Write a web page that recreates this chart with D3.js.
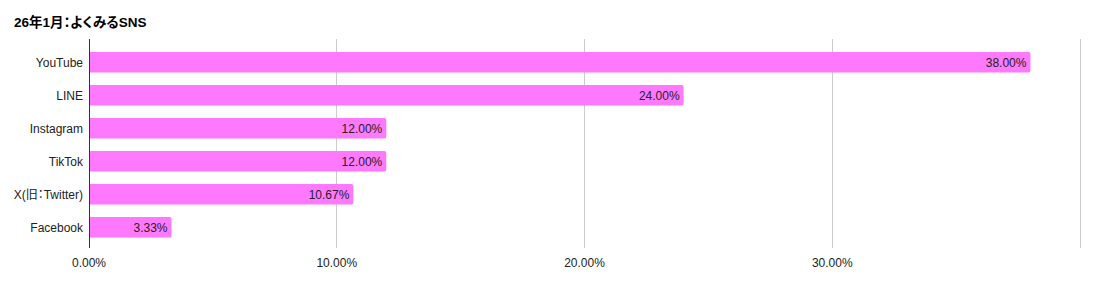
<!DOCTYPE html>
<html><head><meta charset="utf-8">
<script src="https://cdn.jsdelivr.net/npm/d3@7/dist/d3.min.js"></script>
<style>body{margin:0;background:#fff;}svg{display:block;font-family:"Liberation Sans",Arial,"Noto Sans CJK JP",sans-serif;}
.palt{font-feature-settings:"palt" 1;}</style>
</head><body>
<svg id="c" width="1095" height="283"></svg>
<script>
const title = "26年1月：よくみるSNS";
const categories = ["YouTube","LINE","Instagram","TikTok","X(旧：Twitter)","Facebook"];
const values = [38.00, 24.00, 12.00, 12.00, 10.67, 3.33];
const tickValues = [0, 10, 20, 30, 40];
const tickLabels = ["0.00%","10.00%","20.00%","30.00%",""];

const svg = d3.select("#c");
const x = d3.scaleLinear().domain([0, 40]).range([89, 1080]);
const y = d3.scaleBand().domain(categories).range([45.8, 243.8]).paddingInner(0.38).paddingOuter(0.19);

svg.append("text").attr("class", "palt").attr("x", 14).attr("y", 27).attr("font-size", 13.5).attr("font-weight", "bold")
  .attr("fill", "#000").text(title);

// gridlines
svg.append("g").selectAll("line").data(tickValues.slice(1)).join("line")
  .attr("x1", d => x(d)).attr("x2", d => x(d)).attr("y1", 39).attr("y2", 248)
  .attr("stroke", "#ccc").attr("stroke-width", 1).attr("shape-rendering", "crispEdges");

// bars
svg.append("g").selectAll("path").data(values).join("path")
  .attr("d", (d, i) => {
    const x0 = x(0), x1 = x(d), y0 = y(categories[i]), h = y.bandwidth(), r = 2;
    return `M${x0},${y0}H${x1 - r}Q${x1},${y0} ${x1},${y0 + r}V${y0 + h - r}Q${x1},${y0 + h} ${x1 - r},${y0 + h}H${x0}Z`;
  })
  .attr("fill", "#ff79ff");

// value labels
svg.append("g").selectAll("text").data(values).join("text")
  .attr("x", d => x(d) - 4).attr("y", (d, i) => y(categories[i]) + y.bandwidth() / 2)
  .attr("dy", "0.35em").attr("text-anchor", "end").attr("font-size", 12).attr("fill", "#222")
  .text(d => d.toFixed(2) + "%");

// axis line
svg.append("line").attr("x1", x(0)).attr("x2", x(0)).attr("y1", 39).attr("y2", 248)
  .attr("stroke", "#333").attr("stroke-width", 1).attr("shape-rendering", "crispEdges");

// y labels
svg.append("g").selectAll("text").data(categories).join("text")
  .attr("class", "palt")
  .attr("x", 83).attr("y", d => y(d) + y.bandwidth() / 2).attr("dy", "0.35em")
  .attr("text-anchor", "end").attr("font-size", 12).attr("fill", "#222").text(d => d);

// x tick labels
svg.append("g").selectAll("text").data(tickValues).join("text")
  .attr("x", d => x(d)).attr("y", 263).attr("dy", "0.35em").attr("text-anchor", "middle")
  .attr("font-size", 12).attr("fill", "#222").text((d, i) => tickLabels[i]);
</script>
</body></html>
